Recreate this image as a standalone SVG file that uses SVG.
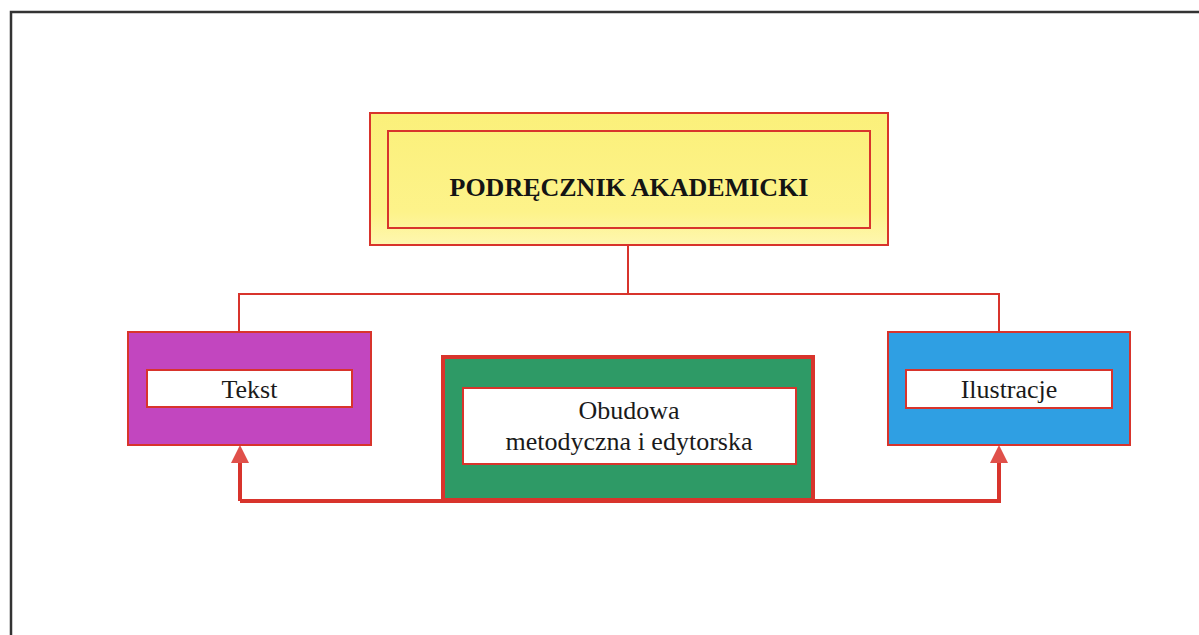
<svg xmlns="http://www.w3.org/2000/svg" width="1199" height="635" viewBox="0 0 1199 635">
<defs>
<style>
.red{stroke:#d8342c;fill:none}
.thin{stroke-width:2}
.thick{stroke-width:4}
.lbl{font-family:"Liberation Serif","Times New Roman",serif;font-size:26px;fill:#1a1a1a;text-anchor:middle}
.title{font-family:"Liberation Serif","Times New Roman",serif;font-size:26px;font-weight:bold;fill:#141414;text-anchor:middle}
.white{fill:#ffffff;stroke:#d8342c;stroke-width:2}
</style>
<linearGradient id="yg" x1="0" y1="0" x2="0" y2="1">
<stop offset="0" stop-color="#fbf07a"/>
<stop offset="0.75" stop-color="#fdf38a"/>
<stop offset="1" stop-color="#fef7b0"/>
</linearGradient>
</defs>
<rect width="1199" height="635" fill="#ffffff"/>
<path d="M11,635 V12 H1199" fill="none" stroke="#333" stroke-width="2.5"/>

<g id="connectors">
<path class="red thin" d="M628,244 V294 M239,332 V294 H999 V332"/>
<path class="red thick" d="M240,501 V462 M240,501 H999 V462"/>
<path d="M240,445 L231,463 L249,463 z" fill="#e0504a"/>
<path d="M999,445 L990,463 L1008,463 z" fill="#e0504a"/>
</g>

<g id="node-top">
<rect x="370" y="113" width="518" height="132" fill="url(#yg)" stroke="#d8342c" stroke-width="2"/>
<rect x="388" y="131" width="482" height="97" fill="none" stroke="#d8342c" stroke-width="2"/>
<text class="title" x="629" y="196">PODRĘCZNIK AKADEMICKI</text>
</g>

<g id="node-tekst">
<rect x="128" y="332" width="243" height="113" fill="#c246bf" stroke="#d8342c" stroke-width="2"/>
<rect class="white" x="147" y="370" width="205" height="37"/>
<text class="lbl" x="249.5" y="398">Tekst</text>
</g>

<g id="node-obudowa">
<rect x="443" y="357" width="370" height="143" fill="#2e9a66" stroke="#d8342c" stroke-width="4"/>
<rect class="white" x="463" y="388" width="333" height="76"/>
<text class="lbl" x="629" y="419">Obudowa</text>
<text class="lbl" x="629" y="450">metodyczna i edytorska</text>
</g>

<g id="node-ilustracje">
<rect x="888" y="332" width="242" height="113" fill="#2f9fe3" stroke="#d8342c" stroke-width="2"/>
<rect class="white" x="906" y="370" width="206" height="38"/>
<text class="lbl" x="1009" y="398">Ilustracje</text>
</g>
</svg>
